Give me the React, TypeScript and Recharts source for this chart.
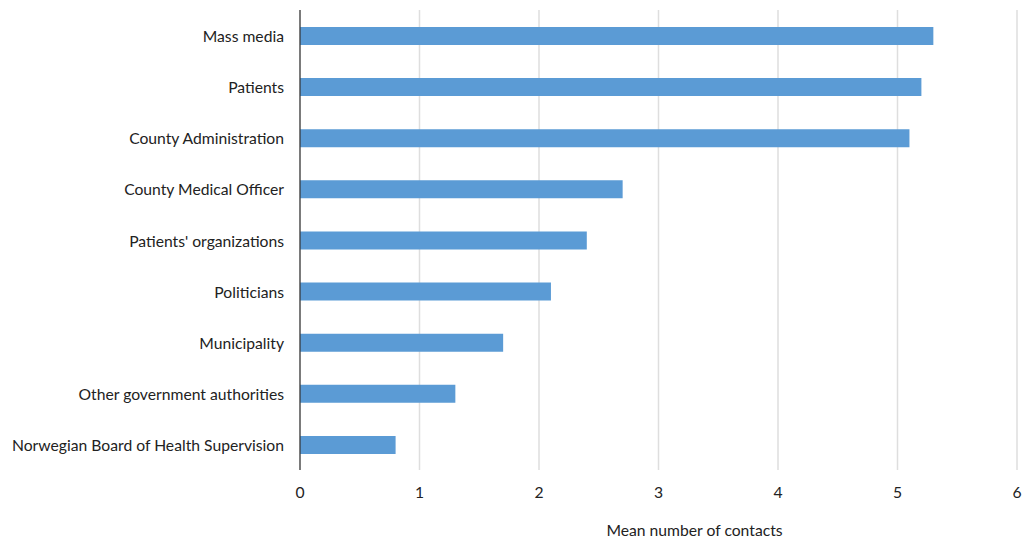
import React from "react";
import { BarChart, Bar, XAxis, YAxis, CartesianGrid } from "recharts";

const categories = [
  "Mass media",
  "Patients",
  "County Administration",
  "County Medical Officer",
  "Patients' organizations",
  "Politicians",
  "Municipality ",
  "Other government authorities",
  "Norwegian Board of Health Supervision",
];
const meanContacts = [5.3, 5.2, 5.1, 2.7, 2.4, 2.1, 1.7, 1.3, 0.8];
const xTicks = [0, 1, 2, 3, 4, 5, 6];

const data = categories.map((name, i) => ({ name, value: meanContacts[i] }));

const font = "Lato, 'Open Sans', sans-serif";

const App: React.FC = () => {
  return (
    <div style={{ position: "absolute", left: 0, top: 0, background: "#fff" }}>
      <BarChart
        width={1027}
        height={547}
        data={data}
        layout="vertical"
        margin={{ top: 10, right: 10, left: 0, bottom: 5 }}
      >
        <CartesianGrid horizontal={false} stroke="#dedede" strokeWidth={1.5} />
        <XAxis
          type="number"
          domain={[0, 6]}
          ticks={xTicks}
          axisLine={false}
          tickLine={false}
          tickSize={6}
          tickMargin={11}
          height={72}
          tick={{ fill: "#222", fontSize: 15.7, fontFamily: font }}
          label={{
            value: "Mean number of contacts",
            position: "insideBottom",
            offset: 6,
            dx: 36,
            fill: "#222",
            fontSize: 15.7,
            fontFamily: font,
          }}
        />
        <YAxis
          type="category"
          dataKey="name"
          width={300}
          axisLine={{ stroke: "#333", strokeWidth: 1.2 }}
          tickLine={false}
          tickSize={6}
          tickMargin={10}
          interval={0}
          tick={{ fill: "#222", fontSize: 15.7, fontFamily: font, dy: 1 }}
        />
        <Bar dataKey="value" fill="#5b9bd5" barSize={18} isAnimationActive={false} />
      </BarChart>
    </div>
  );
};

export default App;
